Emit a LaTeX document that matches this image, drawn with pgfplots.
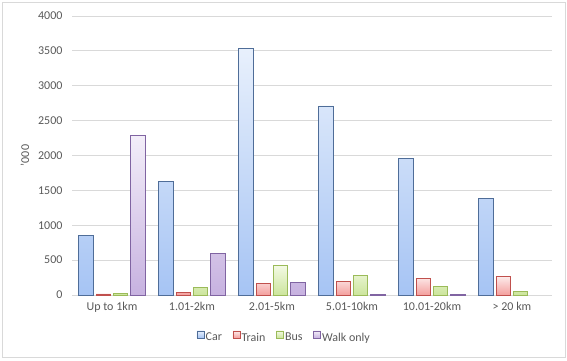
\documentclass[border=0pt]{standalone}
\usepackage{pgfplots}
\pgfplotsset{compat=1.18}
\usepackage{fontspec}
\setmainfont{Carlito}
\definecolor{txt}{HTML}{595959}
\definecolor{gridc}{HTML}{D9D9D9}
\definecolor{carT}{HTML}{E8F0FC}
\definecolor{carB}{HTML}{A6C4F4}
\definecolor{carD}{HTML}{4F6D98}
\definecolor{trT}{HTML}{FDECEC}
\definecolor{trB}{HTML}{F4A09E}
\definecolor{trD}{HTML}{C0504D}
\definecolor{buT}{HTML}{F4FAE6}
\definecolor{buB}{HTML}{CCE59C}
\definecolor{buD}{HTML}{9BBB59}
\definecolor{wkT}{HTML}{F3EEF9}
\definecolor{wkB}{HTML}{C7B2E0}
\definecolor{wkD}{HTML}{8064A2}
\begin{document}
\begin{tikzpicture}[x=1pt,y=1pt]
\path[use as bounding box] (0,0) rectangle (567,360);
\draw[gridc] (2.5,3) rectangle (565,357.5);
\begin{axis}[
  at={(72pt,65pt)}, anchor=south west,
  scale only axis, width=480pt, height=279pt,
  xmin=-0.5, xmax=5.5, ymin=0, ymax=4000,
  xtick={0,1,2,3,4,5},
  xticklabels={Up to 1km,1.01-2km,2.01-5km,5.01-10km,10.01-20km,> 20 km},
  ytick={0,500,1000,1500,2000,2500,3000,3500,4000},
  ymajorgrids, grid style={gridc, line width=0.8pt},
  major tick length=0pt,
  axis x line*=bottom, axis y line*=left,
  x axis line style={-, draw=gridc, line width=0.8pt},
  y axis line style={draw=none},
  tick label style={font=\fontsize{12}{14}\selectfont, text=txt},
  /pgf/number format/assume math mode=true,
  /pgf/number format/set thousands separator={},
  yticklabel style={xshift=-6pt},
  xticklabel style={yshift=-4pt},
  ylabel={'000},
  ylabel style={at={(axis description cs:-0.098,0.5)}, anchor=center, rotate=0, font=\fontsize{12}{14}\selectfont, text=txt},
  ybar=2.8pt, bar width=14.5pt,
  legend columns=4,
  legend style={at={(axis description cs:0.4417,-0.152)}, anchor=center, draw=none, fill=none,
    font=\fontsize{12}{14}\selectfont, text=txt,
    /tikz/every even column/.append style={column sep=9pt},
    nodes={inner sep=1.5pt}},
  legend image code/.code={\draw[#1, line width=0.6pt] (0pt,0pt) rectangle (7pt,7pt);},
]
\addplot[draw=carD, line width=0.9pt, top color=carT, bottom color=carB] coordinates {(0,860) (1,1630) (2,3540) (3,2710) (4,1960) (5,1390)};
\addplot[draw=trD, line width=0.9pt, top color=trT, bottom color=trB] coordinates {(0,15) (1,40) (2,170) (3,200) (4,240) (5,270)};
\addplot[draw=buD, line width=0.9pt, top color=buT, bottom color=buB] coordinates {(0,25) (1,110) (2,430) (3,280) (4,125) (5,55)};
\addplot[draw=wkD, line width=0.9pt, top color=wkT, bottom color=wkB] coordinates {(0,2290) (1,590) (2,180) (3,10) (4,10)};
\legend{Car,Train,Bus,Walk only}
\end{axis}
\end{tikzpicture}
\end{document}
